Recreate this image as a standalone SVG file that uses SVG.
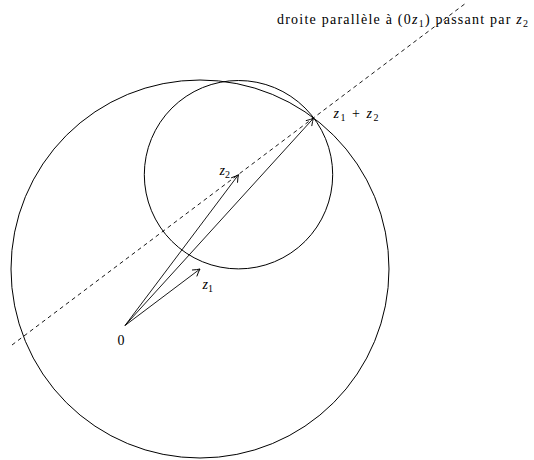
<svg xmlns="http://www.w3.org/2000/svg" width="534" height="460" viewBox="0 0 534 460">
<style>
.c{fill:none;stroke:#000;stroke-width:1}
.v{fill:none;stroke:#000;stroke-width:0.9}
.d{fill:none;stroke:#000;stroke-width:0.9;stroke-dasharray:4 3.5}
text{font-family:"Liberation Serif","DejaVu Serif",serif;font-size:14px;fill:#000}
.m{font-style:italic}
.s{font-size:10px}
</style>
<defs>
<marker id="ar" markerWidth="12" markerHeight="12" refX="0" refY="0" viewBox="-8 -6 10 12" orient="auto" markerUnits="userSpaceOnUse">
<path d="M -7 -4 Q -2.5 -1 0 0 Q -2.5 1 -7 4" fill="none" stroke="#000" stroke-width="0.9"/>
</marker>
</defs>
<rect width="534" height="460" fill="#fff"/>
<g id="circles">
<circle id="big-circle" class="c" cx="200" cy="269" r="189"/>
<circle id="small-circle" class="c" cx="238.5" cy="174.7" r="94.2"/>
</g>
<g id="connectors">
<line class="d" x1="12" y1="345" x2="466" y2="3"/>
<line class="v" x1="125" y1="325.5" x2="200" y2="269" marker-end="url(#ar)"/>
<line class="v" x1="125" y1="325.5" x2="238.5" y2="174.7" marker-end="url(#ar)"/>
<line class="v" x1="125" y1="325.5" x2="313.5" y2="118.2" marker-end="url(#ar)"/>
</g>
<g id="labels">
<text id="lbl-0" x="121" y="345" text-anchor="middle">0</text>
<text id="lbl-z1" x="202.5" y="289"><tspan class="m">z</tspan><tspan class="s" dy="2.5">1</tspan></text>
<text id="lbl-z2" x="219.5" y="175"><tspan class="m">z</tspan><tspan class="s" dy="2.5">2</tspan></text>
<text id="lbl-sum" x="333.5" y="118" textLength="45" lengthAdjust="spacing"><tspan class="m">z</tspan><tspan class="s" dy="2.5">1</tspan><tspan dy="-2.5"> + </tspan><tspan class="m">z</tspan><tspan class="s" dy="2.5">2</tspan></text>
<text id="lbl-title" x="277" y="24" textLength="251" lengthAdjust="spacing">droite parallèle à (0<tspan class="m">z</tspan><tspan class="s" dy="2.5">1</tspan><tspan dy="-2.5">) passant par </tspan><tspan class="m">z</tspan><tspan class="s" dy="2.5">2</tspan></text>
</g>
</svg>
